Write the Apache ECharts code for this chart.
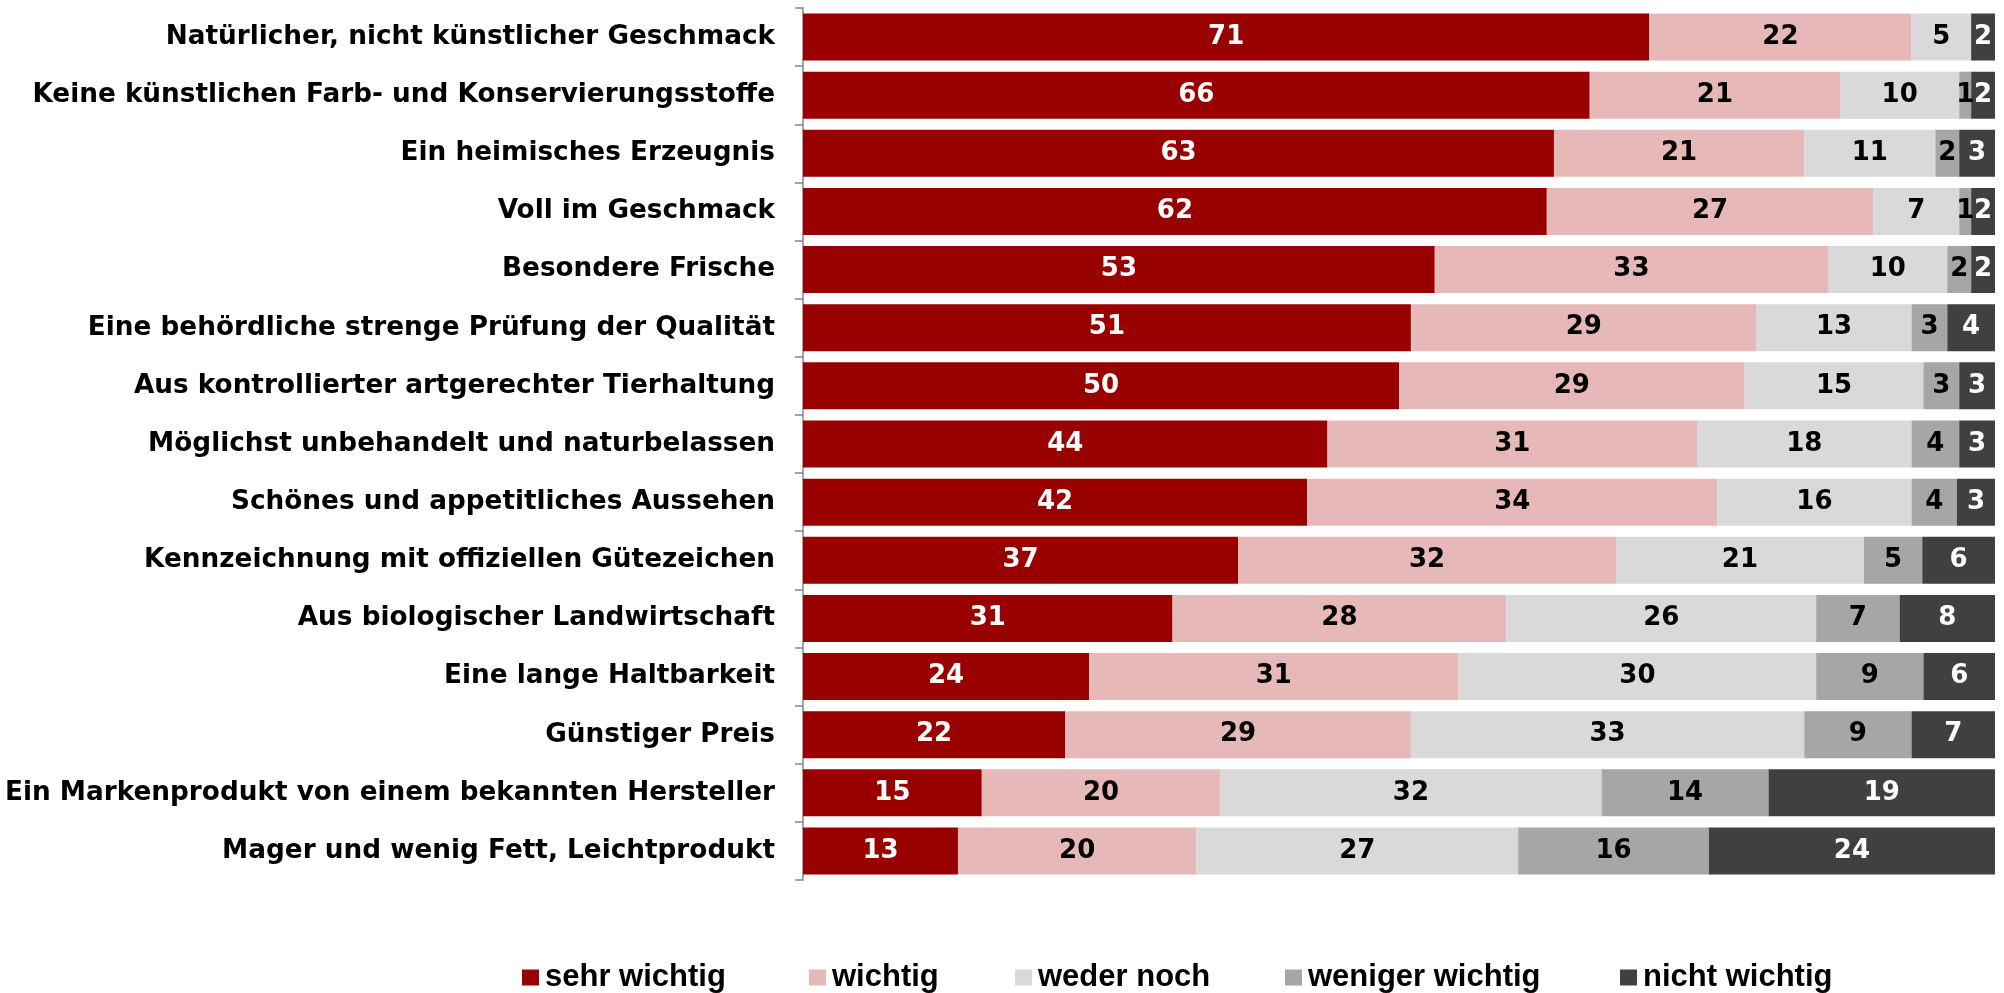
<!DOCTYPE html>
<html>
<head>
<meta charset="utf-8">
<script src="https://cdn.jsdelivr.net/npm/echarts@6/dist/echarts.min.js"></script>
<style>
  html, body { margin: 0; padding: 0; background: #fff; }
  #chart { width: 2004px; height: 993px; }
</style>
</head>
<body>
<div id="chart"></div>
<script>
// Kategorien (von oben nach unten)
const categories = [
  'Natürlicher, nicht künstlicher Geschmack',
  'Keine künstlichen Farb- und Konservierungsstoffe',
  'Ein heimisches Erzeugnis',
  'Voll im Geschmack',
  'Besondere Frische',
  'Eine behördliche strenge Prüfung der Qualität',
  'Aus kontrollierter artgerechter Tierhaltung',
  'Möglichst unbehandelt und naturbelassen',
  'Schönes und appetitliches Aussehen',
  'Kennzeichnung mit offiziellen Gütezeichen',
  'Aus biologischer Landwirtschaft',
  'Eine lange Haltbarkeit',
  'Günstiger Preis',
  'Ein Markenprodukt von einem bekannten Hersteller',
  'Mager und wenig Fett, Leichtprodukt'
]

// Prozentwerte (Beschriftung gerundet)
const sehrWichtig    = [71, 66, 63, 62.4, 53, 51, 50, 44, 42.3, 36.5, 31, 24, 22, 15, 13]
const wichtig        = [22, 21, 21, 27.4, 33, 29, 29, 31, 34.4, 31.7, 28, 31, 29, 20, 20]
const wederNoch      = [5, 10, 11, 7.2, 10, 13, 15, 18, 16.3, 20.8, 26, 30, 33, 32, 27]
const wenigerWichtig = [0, 1, 2, 1.0, 2, 3, 3, 4, 3.8, 4.9, 7, 9, 9, 14, 16]
const nichtWichtig   = [2, 2, 3, 2.0, 2, 4, 3, 3, 3.2, 6.1, 8, 6, 7, 19, 24]

const seriesNames = ['sehr wichtig', 'wichtig', 'weder noch', 'weniger wichtig', 'nicht wichtig']
const seriesValues = [sehrWichtig, wichtig, wederNoch, wenigerWichtig, nichtWichtig]
const seriesColors = ['#990000', '#E6B9B8', '#D9D9D9', '#A6A6A6', '#404040']
const labelColors = ['#ffffff', '#000000', '#000000', '#000000', '#ffffff']

// Legendenpositionen (x des Symbols)
const legendLeft = [522, 809, 1015, 1285, 1620]

const labelFont = 'DejaVu Sans'
const legendFont = 'Liberation Sans'

const chart = echarts.init(document.getElementById('chart'))

const series = seriesNames.map((name, i) => ({
  name: name,
  type: 'bar',
  stack: 'total',
  barWidth: 47,
  data: seriesValues[i],
  itemStyle: { color: seriesColors[i] },
  label: {
    show: true,
    position: 'inside',
    color: labelColors[i],
    fontFamily: labelFont,
    fontWeight: 'bold',
    fontSize: 26,
    formatter: p => (p.value ? String(Math.round(p.value)) : '')
  },
  emphasis: { disabled: true }
}))

const legends = seriesNames.map((name, i) => ({
  data: [name],
  left: legendLeft[i],
  top: 962,
  padding: 0,
  itemWidth: 17,
  itemHeight: 16,
  itemGap: 0,
  icon: 'rect',
  selectedMode: false,
  textStyle: {
    fontFamily: legendFont,
    fontWeight: 'bold',
    fontSize: 31,
    color: '#000',
    padding: [0, 0, 0, 1]
  }
}))

const option = {
  animation: false,
  backgroundColor: '#fff',
  legend: legends,
  grid: {
    left: 803,
    right: 9,
    top: 8,
    bottom: 113,
    containLabel: false
  },
  xAxis: {
    type: 'value',
    min: 0,
    max: 100,
    show: false
  },
  yAxis: {
    type: 'category',
    inverse: true,
    data: categories,
    axisLine: { show: true, lineStyle: { color: '#868686', width: 1.5 } },
    axisTick: { show: true, length: 8, lineStyle: { color: '#868686', width: 1.5 } },
    axisLabel: {
      margin: 28,
      color: '#000',
      fontFamily: labelFont,
      fontWeight: 'bold',
      fontSize: 26.3
    },
    splitLine: { show: false }
  },
  series: series
}

chart.setOption(option)
</script>
</body>
</html>
